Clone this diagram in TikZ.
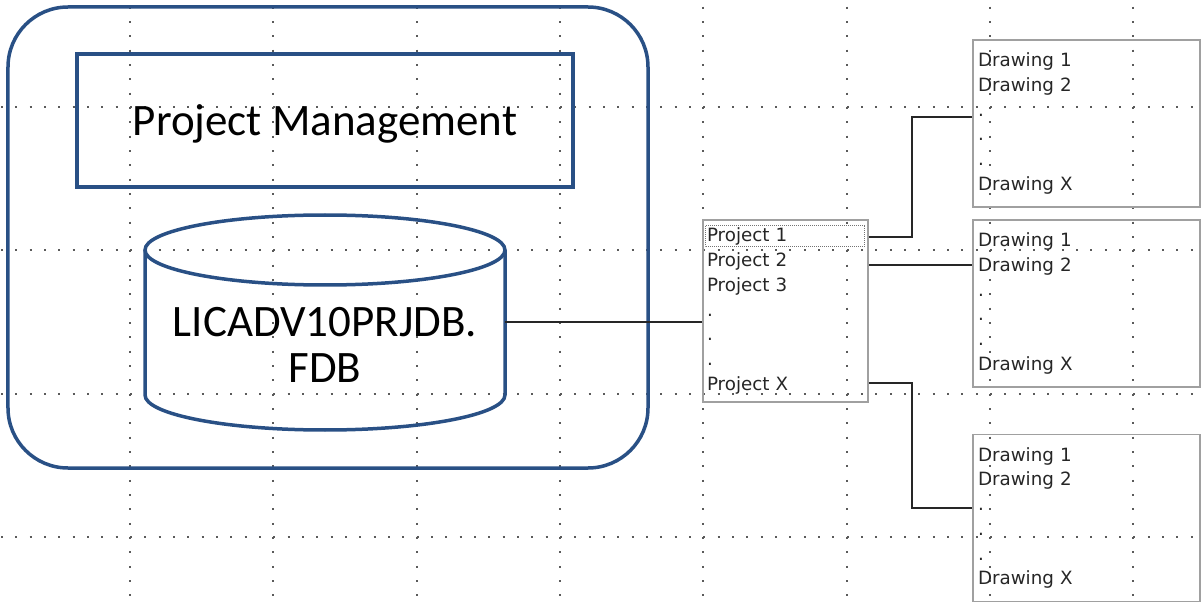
\documentclass[tikz,border=0pt]{standalone}
\usepackage{fontspec}
\newfontfamily\bigfont{Carlito}
\newfontfamily\listfont{DejaVu Sans}
\usepackage{tikz}
\usetikzlibrary{positioning}
\definecolor{frameblue}{RGB}{41,80,133}
\definecolor{boxgrey}{RGB}{160,160,160}
\definecolor{gridgrey}{RGB}{90,90,90}
\tikzset{
    gridline/.style={
        gridgrey,
        line width=0.04cm,
        dash pattern=on 0.04cm off 0.2467cm
    },
    frame/.style={
        draw=frameblue,
        line width=0.07cm,
        rounded corners=1.2cm,
        minimum width=12.8cm,
        minimum height=9.22cm
    },
    titlebox/.style={
        draw=frameblue,
        line width=0.07cm,
        minimum width=9.92cm,
        minimum height=2.66cm,
        text depth=0pt,
        font=\bigfont\fontsize{25.6pt}{26.2pt}\selectfont
    },
    dbline/.style={
        draw=frameblue,
        line width=0.07cm
    },
    dbtext/.style={
        align=center,
        font=\bigfont\fontsize{25.6pt}{26.2pt}\selectfont
    },
    listbox/.style={
        draw=boxgrey,
        line width=0.035cm,
        minimum width=3.3cm,
        minimum height=3.64cm,
        text width=3.14cm,
        inner xsep=0.08cm,
        align=left,
        text=black!85,
        font=\listfont\fontsize{10.4pt}{14.06pt}\selectfont
    },
    drawbox/.style={
        draw=boxgrey,
        line width=0.035cm,
        minimum height=3.34cm,
        text width=4.34cm,
        inner xsep=0.1cm,
        align=left,
        text=black!85,
        font=\listfont\fontsize{10.4pt}{14.06pt}\selectfont
    },
    focus/.style={
        draw=black!55,
        line width=0.02cm,
        dash pattern=on 0.02cm off 0.02cm
    },
    link/.style={
        draw=black!85,
        line width=0.05cm
    }
}

\begin{document}
\begin{tikzpicture}

\useasboundingbox (0,0) rectangle (24.06,-12.04);

% grid
\draw[gridline] (2.6,-0.134) -- (2.6,-12.04);
\draw[gridline] (5.467,-0.134) -- (5.467,-12.04);
\draw[gridline] (8.333,-0.134) -- (8.333,-12.04);
\draw[gridline] (11.2,-0.134) -- (11.2,-12.04);
\draw[gridline] (14.067,-0.134) -- (14.067,-12.04);
\draw[gridline] (16.933,-0.134) -- (16.933,-12.04);
\draw[gridline] (19.8,-0.134) -- (19.8,-12.04);
\draw[gridline] (22.667,-0.134) -- (22.667,-12.04);
\draw[gridline] (0.02,-2.14) -- (24.06,-2.14);
\draw[gridline] (0.02,-5.007) -- (24.06,-5.007);
\draw[gridline] (0.02,-7.873) -- (24.06,-7.873);
\draw[gridline] (0.02,-10.74) -- (24.06,-10.74);


% ------------------------------------------------------------
% Project management and database
% ------------------------------------------------------------

\node[frame] (frame) at (6.56,-4.75) {};

\node[titlebox] (pm) at (6.5,-2.41) {Project Management};

\draw[dbline] (2.9,-5.0) -- (2.9,-7.9)
    arc[start angle=180, end angle=360, x radius=3.6, y radius=0.7]
    -- (10.1,-5.0);
\draw[dbline] (6.5,-5.0) ellipse[x radius=3.6, y radius=0.7];

\node[dbtext] (db) at (6.5,-6.9) {LICADV10PRJDB.\\FDB};

\coordinate (dbout) at (10.1,-6.44);


% ------------------------------------------------------------
% Projects and drawings
% ------------------------------------------------------------

\node[listbox] (projects) at (15.71,-6.22)
{Project 1\\Project 2\\Project 3\\.\\.\\.\\Project X};

\draw[focus] (14.1,-4.52) rectangle (17.28,-4.94);

\node[drawbox] (drwa) at (21.73,-2.47)
{Drawing 1\\Drawing 2\\.\\.\\.\\Drawing X};

\node[drawbox] (drwb) at (21.73,-6.07)
{Drawing 1\\Drawing 2\\.\\.\\.\\Drawing X};

\node[drawbox] (drwc) at (21.73,-10.36)
{Drawing 1\\Drawing 2\\.\\.\\.\\Drawing X};

\draw[link] (dbout) -- (dbout -| projects.west);

\draw[link] ([yshift=-0.36cm]projects.north east) -- ++(0.86,0)
    |- ([yshift=0.13cm]drwa.west);
\draw[link] ([yshift=-0.92cm]projects.north east)
    -- ([yshift=-0.92cm]projects.north east -| drwb.west);
\draw[link] ([yshift=0.4cm]projects.south east) -- ++(0.86,0)
    |- ([yshift=0.2cm]drwc.west);

\end{tikzpicture}
\end{document}
